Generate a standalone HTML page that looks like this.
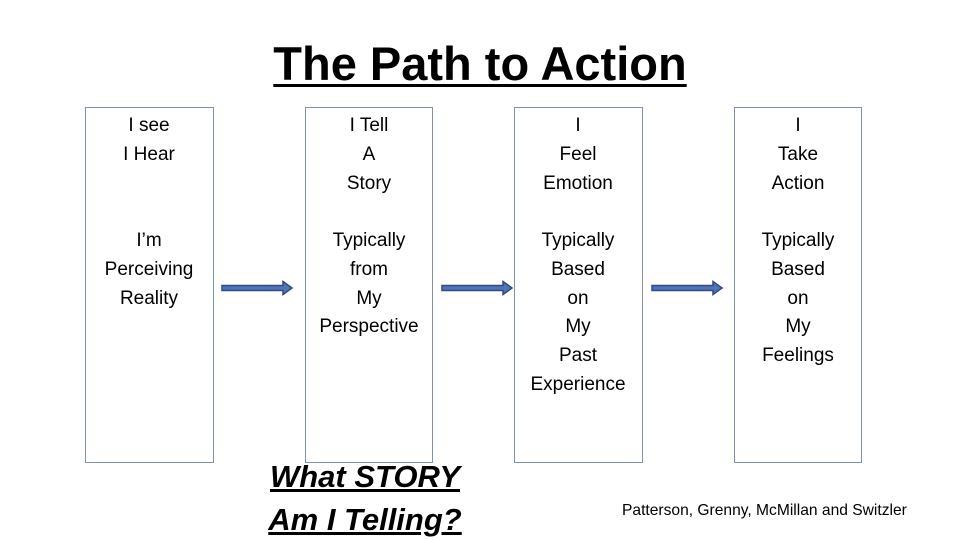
<!DOCTYPE html>
<html><head><meta charset="utf-8"><style>
body{margin:0;width:960px;height:540px;background:#fff;position:relative;overflow:hidden;font-family:"Liberation Sans",sans-serif;color:#000}
.t{position:absolute;left:0;width:960px;top:36px;text-align:center;font-size:47px;font-weight:bold;text-decoration:underline;text-decoration-thickness:3px;text-underline-offset:4px}
.b{position:absolute;top:107px;height:356px;border:1px solid #7f93b0;box-sizing:border-box}
.x{position:absolute;text-align:center;font-size:19px;line-height:28.8px;width:160px}
.q{position:absolute;left:240px;width:250px;text-align:center;font-size:31px;font-weight:bold;font-style:italic;text-decoration:underline;text-decoration-thickness:3px}
.c{position:absolute;left:622px;top:502px;font-size:15.6px;white-space:nowrap}
</style></head><body>
<div class="t">The Path to Action</div>
<div class="b" style="left:85px;width:129px"></div>
<div class="b" style="left:305px;width:128px"></div>
<div class="b" style="left:514px;width:129px"></div>
<div class="b" style="left:734px;width:128px"></div>

<div class="x" style="left:69px;top:112px">I see<br>I Hear</div>
<div class="x" style="left:69px;top:227px">I’m<br>Perceiving<br>Reality</div>
<div class="x" style="left:289px;top:112px">I Tell<br>A<br>Story</div>
<div class="x" style="left:289px;top:227px">Typically<br>from<br>My<br>Perspective</div>
<div class="x" style="left:498px;top:112px">I<br>Feel<br>Emotion</div>
<div class="x" style="left:498px;top:227px">Typically<br>Based<br>on<br>My<br>Past<br>Experience</div>
<div class="x" style="left:718px;top:112px">I<br>Take<br>Action</div>
<div class="x" style="left:718px;top:227px">Typically<br>Based<br>on<br>My<br>Feelings</div>

<svg width="960" height="540" style="position:absolute;left:0;top:0">
<g fill="#4f74b8" stroke="#2f4a85" stroke-width="1.5">
<path d="M222 285.5H283V281.5L292 288L283 294.5V290.5H222Z"/>
<path d="M442 285.5H503V281.5L512 288L503 294.5V290.5H442Z"/>
<path d="M652 285.5H713V281.5L722 288L713 294.5V290.5H652Z"/>
</g></svg>

<div class="q" style="top:459px">What STORY</div>
<div class="q" style="top:502px">Am I Telling?</div>
<div class="c">Patterson, Grenny, McMillan and Switzler</div>
</body></html>
